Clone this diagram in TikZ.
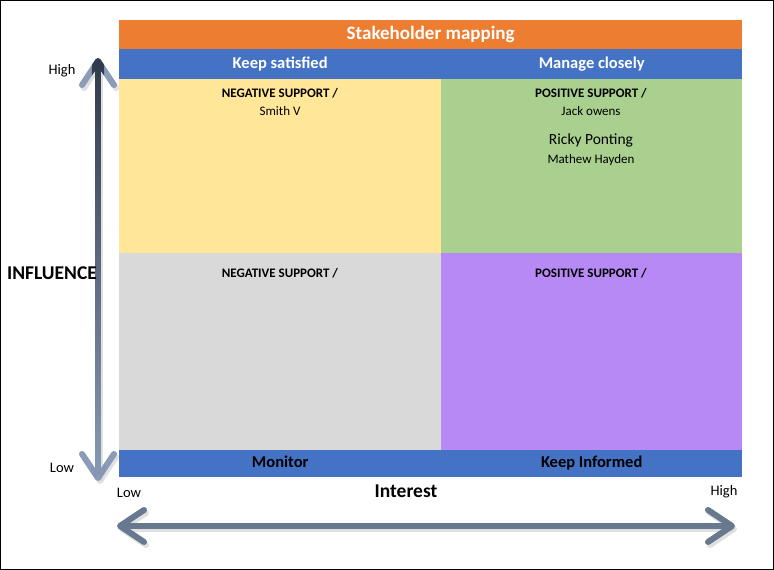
\documentclass[tikz,border=0pt]{standalone}
\usepackage{fontspec}
\setmainfont{Carlito}
\usetikzlibrary{positioning,arrows.meta,fadings}

\definecolor{hdrOrange}{HTML}{ED7D31}
\definecolor{bandBlue}{HTML}{4472C4}
\definecolor{qYellow}{HTML}{FFE699}
\definecolor{qGreen}{HTML}{A9D08E}
\definecolor{qGray}{HTML}{D9D9D9}
\definecolor{qPurple}{HTML}{B689F5}
\definecolor{axisDark}{HTML}{2F3A4A}
\definecolor{axisLight}{HTML}{8A9CB8}
\definecolor{axisMid}{HTML}{67788F}

\tikzfading[name=fade down, top color=transparent!0, bottom color=transparent!100]

\begin{document}
\begin{tikzpicture}[x=1pt, y=-1pt, every node/.style={inner sep=1pt},
    band/.style={fill=bandBlue, inner sep=0pt, anchor=north west, text height=11.5pt, text depth=3.5pt, font=\fontsize{16.5}{18}\selectfont\bfseries},
    quad/.style={inner sep=0pt, anchor=north west},
    tag/.style={font=\fontsize{13}{15}\selectfont\bfseries},
    who/.style={font=\fontsize{13}{15}\selectfont},
    axislbl/.style={font=\fontsize{14.5}{16}\selectfont},
    axistitle/.style={font=\fontsize{19.5}{21}\selectfont\bfseries},
    axis/.style={line width=6pt, line cap=round,
        {Straight Barb[length=24pt, width=32pt, line cap=round, line join=round]}-{Straight Barb[length=24pt, width=32pt, line cap=round, line join=round]}}]
    \useasboundingbox (0,0) rectangle (774,570);
    \draw[line width=1pt] (0.5,0.5) rectangle (773.5,569.5);

    % Cabecalho e faixas
    \node[band, fill=hdrOrange, text=white, minimum width=623, minimum height=29, text height=13pt, text depth=4pt, font=\fontsize{19}{21}\selectfont\bfseries] (title) at (119,20) {Stakeholder mapping};
    \node[band, text=white, minimum width=322, minimum height=30] (keepSat) at (119,49) {Keep satisfied};
    \node[band, text=white, minimum width=301, minimum height=30] (manage) at (441,49) {Manage closely};

    % Quadrantes
    \node[quad, fill=qYellow, minimum width=322, minimum height=174] (negHigh) at (119,79) {};
    \node[quad, fill=qGreen, minimum width=301, minimum height=174] (posHigh) at (441,79) {};
    \node[quad, fill=qGray, minimum width=322, minimum height=197] (negLow) at (119,253) {};
    \node[quad, fill=qPurple, minimum width=301, minimum height=197] (posLow) at (441,253) {};

    % Faixas de baixo
    \node[band, minimum width=322, minimum height=27] (monitor) at (119,450) {Monitor};
    \node[band, minimum width=301, minimum height=27] (inform) at (441,450) {Keep Informed};

    % Textos dos quadrantes
    \node[tag] (negHighTag) at (280,93) {NEGATIVE SUPPORT /};
    \node[who] (smith) at (280,111) {Smith V};
    \node[tag] (posHighTag) at (591,93) {POSITIVE SUPPORT /};
    \node[who] (jack) at (591,111) {Jack owens};
    \node[font=\fontsize{15.5}{17}\selectfont] (ricky) at (591,140) {Ricky Ponting};
    \node[who] (mathew) at (591,160) {Mathew Hayden};
    \node[tag] (negLowTag) at (280,273) {NEGATIVE SUPPORT /};
    \node[tag] (posLowTag) at (591,273) {POSITIVE SUPPORT /};

    % Eixos
    \coordinate (infTop) at (98,58);
    \coordinate (infBot) at (98,481);
    \coordinate (intLeft) at (117,526);
    \coordinate (intRight) at (735,526);
    \draw[axis, black!20, opacity=.6, transform canvas={shift={(2,3)}}] (infTop) -- (infBot);
    \draw[axis, axisLight] (infTop) -- (infBot);
    \draw[axis, axisDark, path fading=fade down] (infTop) -- (infBot);
    \draw[axis, black!20, opacity=.6, transform canvas={shift={(2,3)}}] (intLeft) -- (intRight);
    \draw[axis, axisMid] (intLeft) -- (intRight);

    % Rotulos dos eixos
    \node[axislbl] (infHigh) at (62,71) {High};
    \node[axislbl] (infLow) at (62,468) {Low};
    \node[axistitle] (influence) at (52,273) {INFLUENCE};
    \node[axislbl] (intLow) at (129,493) {Low};
    \node[axistitle] (interest) at (406,491) {Interest};
    \node[axislbl] (intHigh) at (724,492) {High};
\end{tikzpicture}
\end{document}
